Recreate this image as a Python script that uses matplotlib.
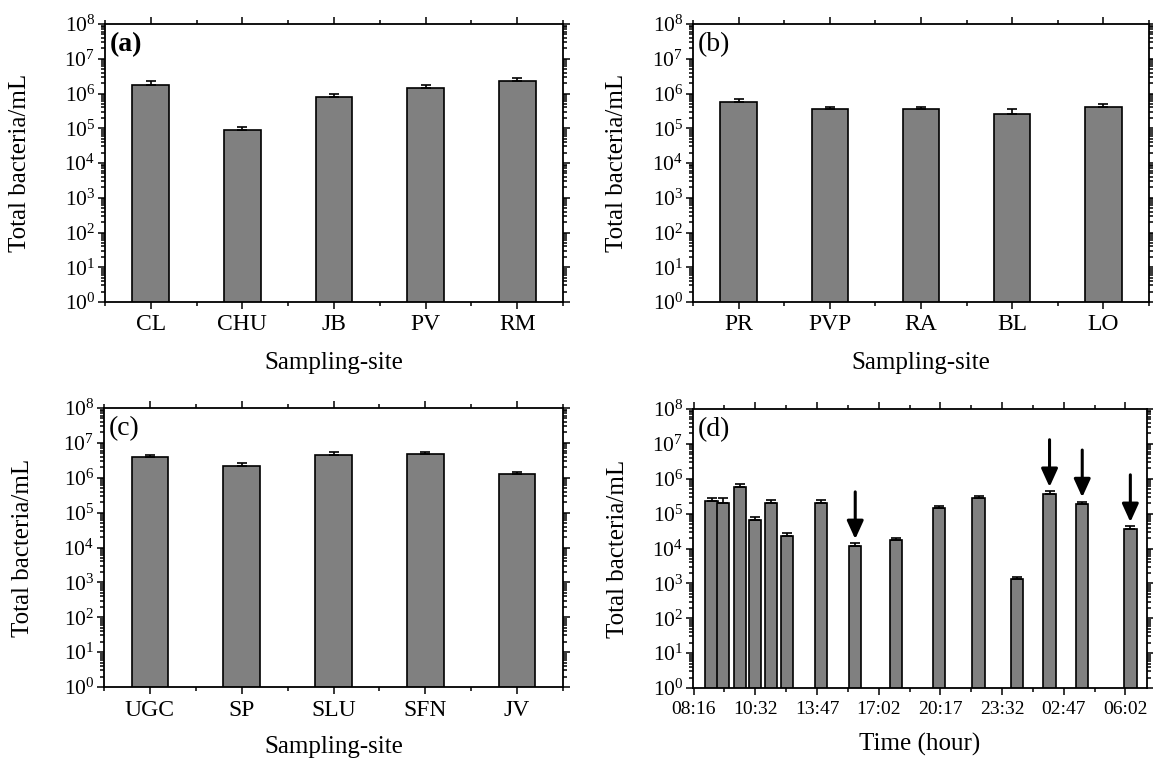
import numpy as np
import matplotlib
matplotlib.use('Agg')
import matplotlib.pyplot as plt
from matplotlib.ticker import LogLocator, FixedLocator, NullFormatter

plt.rcParams['font.family'] = 'Liberation Serif'
plt.rcParams['mathtext.fontset'] = 'custom'
plt.rcParams['mathtext.rm'] = 'Liberation Serif'

# panel (a)
sites_a = ['CL', 'CHU', 'JB', 'PV', 'RM']
vals_a = [1.76e6, 9.1e4, 8.1e5, 1.44e6, 2.34e6]
err_a = [4.6e5, 1.8e4, 1.5e5, 3.1e5, 5.0e5]

# panel (b)
sites_b = ['PR', 'PVP', 'RA', 'BL', 'LO']
vals_b = [5.6e5, 3.6e5, 3.6e5, 2.6e5, 4.2e5]
err_b = [1.2e5, 0.6e5, 0.6e5, 0.95e5, 0.8e5]

# panel (c)
sites_c = ['UGC', 'SP', 'SLU', 'SFN', 'JV']
vals_c = [3.98e6, 2.24e6, 4.35e6, 4.73e6, 1.24e6]
err_c = [0.6e6, 0.4e6, 0.95e6, 0.9e6, 0.27e6]

# panel (d) - x in units of tick spacing
time_labels = ['08:16', '10:32', '13:47', '17:02', '20:17', '23:32', '02:47', '06:02']
x_d = [0.29, 0.48, 0.75, 1.0, 1.25, 1.51, 2.07, 2.62, 3.28, 3.98, 4.62, 5.24, 5.77, 6.3, 7.08]
vals_d = [2.26e5, 2.07e5, 5.9e5, 6.7e4, 2.07e5, 2.3e4, 2.07e5, 1.2e4, 1.72e4,
          1.42e5, 2.8e5, 1.34e3, 3.75e5, 1.9e5, 3.7e4]
err_d = [0.5e5, 0.68e5, 1.0e5, 1.15e4, 0.35e5, 0.4e4, 0.35e5, 0.2e4, 0.3e4,
         0.24e5, 0.48e5, 0.23e3, 0.64e5, 0.32e5, 0.63e4]
arrow_idx = [7, 12, 13, 14]

W, H = 1153, 762
fig = plt.figure(figsize=(W / 100, H / 100), dpi=100)

ax_a = fig.add_axes([105 / W, 1 - 302 / H, 458 / W, 278 / H])
ax_b = fig.add_axes([693 / W, 1 - 302 / H, 456 / W, 278 / H])
ax_c = fig.add_axes([104 / W, 1 - 687 / H, 459 / W, 279 / H])
ax_d = fig.add_axes([693 / W, 1 - 688 / H, 454 / W, 279 / H])


def style(ax):
    ax.set_yscale('log')
    ax.set_ylim(1, 1e8)
    ax.yaxis.set_major_locator(LogLocator(base=10, numticks=20))
    ax.yaxis.set_minor_locator(LogLocator(base=10, subs=np.arange(2, 10), numticks=20))
    ax.yaxis.set_minor_formatter(NullFormatter())
    ax.tick_params(which='both', direction='out', top=True, right=True, width=1.1)
    ax.tick_params(which='major', length=5)
    ax.tick_params(which='minor', length=3)
    ax.tick_params(axis='y', labelsize=15.5, pad=2)
    ax.tick_params(axis='x', labelsize=17, pad=4)
    for s in ax.spines.values():
        s.set_linewidth(1.3)
    ax.set_ylabel('Total bacteria/mL', fontsize=18)


def site_panel(ax, sites, vals, err, tag, ylab_x, bold=False):
    x = np.arange(len(sites))
    ax.bar(x, vals, width=0.4, color='#808080', edgecolor='black', linewidth=1.2,
           yerr=[np.zeros(len(vals)), err], capsize=3.5,
           error_kw=dict(elinewidth=1.2, capthick=1.2, ecolor='black'))
    style(ax)
    ax.set_xlim(-0.5, len(sites) - 0.5)
    ax.set_xticks(x)
    ax.set_xticklabels(sites)
    ax.xaxis.set_minor_locator(FixedLocator(np.arange(-0.5, len(sites), 1.0)))
    ax.set_xlabel('Sampling-site', fontsize=18)
    ax.xaxis.set_label_coords(0.5, -0.18)
    ax.yaxis.set_label_coords(ylab_x, 0.5)
    ax.text(0.01, 0.97, tag, transform=ax.transAxes, fontsize=20, va='top', ha='left',
            fontweight='bold' if bold else 'normal')


site_panel(ax_a, sites_a, vals_a, err_a, '(a)', -0.162, bold=True)
site_panel(ax_b, sites_b, vals_b, err_b, '(b)', -0.143)
site_panel(ax_c, sites_c, vals_c, err_c, '(c)', -0.153)
ax_c.xaxis.set_label_coords(0.5, -0.175)

# panel (d)
ax_d.bar(x_d, vals_d, width=0.2, color='#808080', edgecolor='black', linewidth=1.2,
         yerr=[np.zeros(len(vals_d)), err_d], capsize=3.5,
         error_kw=dict(elinewidth=1.2, capthick=1.2, ecolor='black'))
style(ax_d)
ax_d.set_xlim(-0.01, 7.35)
ax_d.set_xticks(np.arange(len(time_labels)))
ax_d.set_xticklabels(time_labels, fontsize=14)
ax_d.xaxis.set_minor_locator(FixedLocator(np.arange(0.5, 7.35, 1.0)))
ax_d.set_xlabel('Time (hour)', fontsize=18)
ax_d.xaxis.set_label_coords(0.5, -0.16)
ax_d.yaxis.set_label_coords(-0.141, 0.5)
ax_d.text(0.01, 0.97, '(d)', transform=ax_d.transAxes, fontsize=20, va='top', ha='left')

for i in arrow_idx:
    ax_d.annotate('', xy=(x_d[i], vals_d[i] * 1.55), xytext=(0, 34), textcoords='offset points',
                  arrowprops=dict(arrowstyle='-|>,head_width=0.25,head_length=0.55',
                                  mutation_scale=20, color='black', lw=2.2,
                                  shrinkA=0, shrinkB=0))

fig.savefig('out.png', dpi=100)
